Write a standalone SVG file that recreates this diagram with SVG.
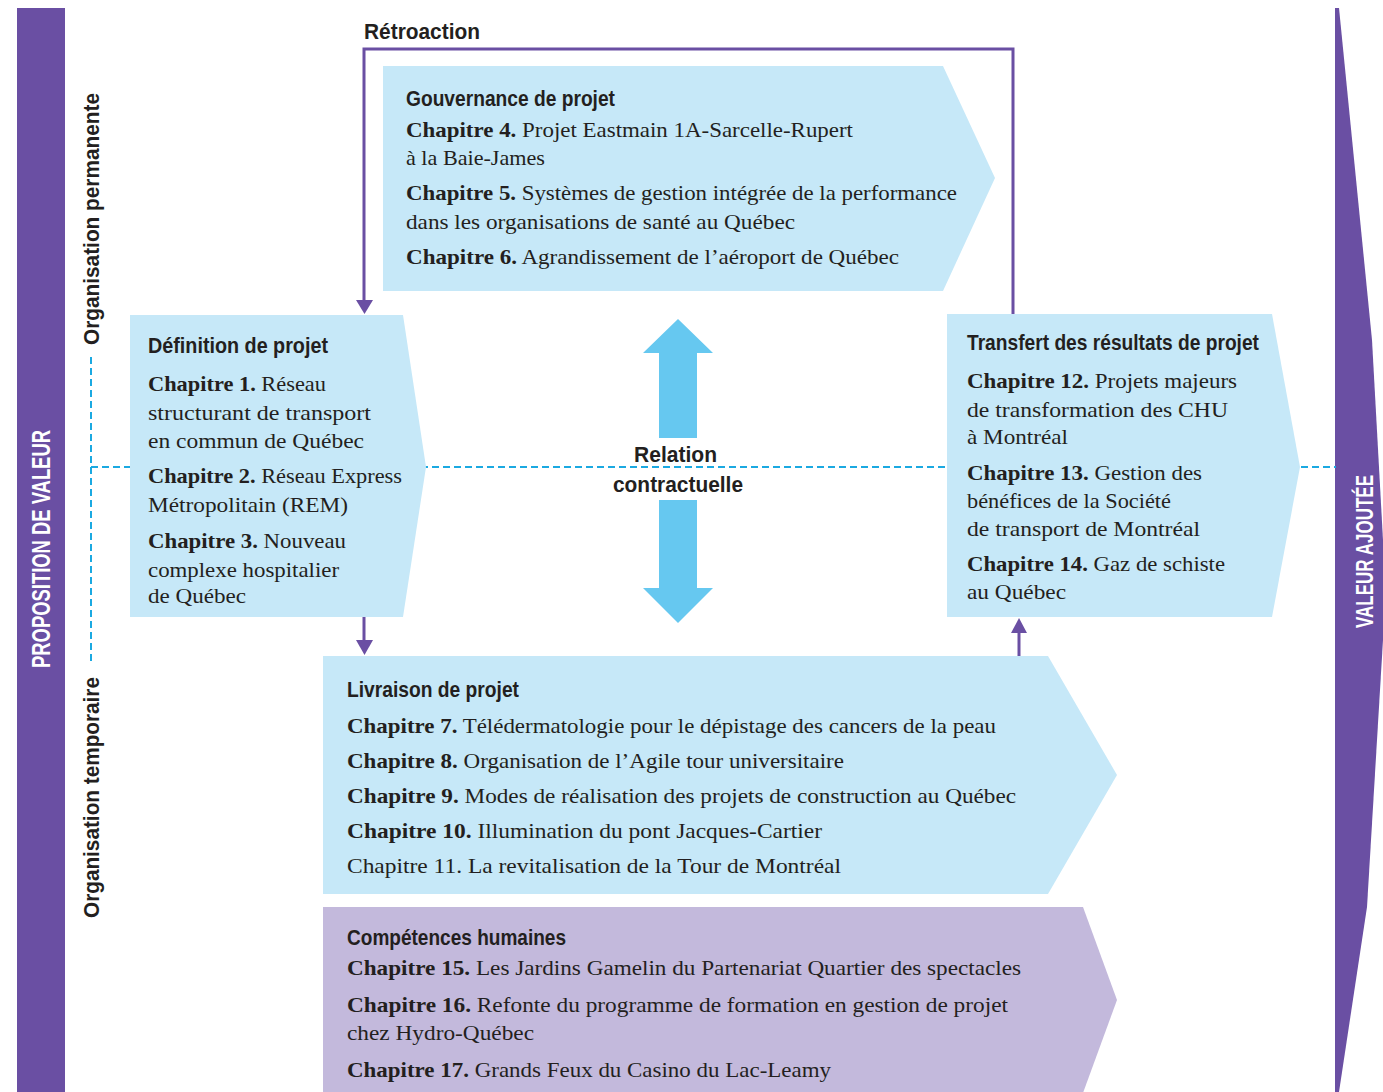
<svg xmlns="http://www.w3.org/2000/svg" width="1383" height="1092" viewBox="0 0 1383 1092">
<style>
.box{fill:#c6e8f8}
.boxp{fill:#c3b9dc}
.bar{fill:#6a4fa3}
.dash{stroke:#1ba9e1;stroke-width:2;stroke-dasharray:7 4;fill:none}
.conn{stroke:#6a4fa3;stroke-width:3;fill:none}
.head{fill:#6a4fa3}
.h{font-family:"Liberation Sans",Arial,sans-serif;font-weight:700;font-size:22px;fill:#231f20}
.t{font-family:"Liberation Serif","Times New Roman",serif;font-size:22px;fill:#231f20}
.t tspan.b{font-weight:700}
.side{font-family:"Liberation Sans",Arial,sans-serif;font-weight:700;fill:#fff}
.big{fill:#66c8f0}
</style>
<rect width="1383" height="1092" fill="#fff"/>

<g id="bar-left">
<rect class="bar" x="17" y="8" width="48" height="1084"/>
<text class="side" font-size="25" transform="translate(50,668) rotate(-90)" textLength="238" lengthAdjust="spacingAndGlyphs">PROPOSITION DE VALEUR</text>
</g>
<g id="bar-right">
<polygon class="bar" points="1335,8 1339,8 1372,340 1383,540 1383,640 1367,907 1339,1092 1335,1092"/>
<text class="side" font-size="24" transform="translate(1373,628) rotate(-90)" textLength="153" lengthAdjust="spacingAndGlyphs">VALEUR AJOUTÉE</text>
</g>

<g id="guides">
<line class="dash" x1="91" y1="467" x2="1336" y2="467"/>
<line class="dash" x1="91" y1="357" x2="91" y2="662"/>
<text class="h" transform="translate(99,345) rotate(-90)" textLength="252" lengthAdjust="spacingAndGlyphs">Organisation permanente</text>
<text class="h" transform="translate(99,918) rotate(-90)" textLength="241" lengthAdjust="spacingAndGlyphs">Organisation temporaire</text>
</g>

<g id="connectors">
<polyline class="conn" points="364,303 364,49 1013,49 1013,314"/>
<polygon class="head" points="356,300 373,300 364.5,314"/>
<line class="conn" x1="364" y1="617" x2="364" y2="642"/>
<polygon class="head" points="356,640 373,640 364.5,655"/>
<line class="conn" x1="1019" y1="632" x2="1019" y2="656"/>
<polygon class="head" points="1011,633 1027,633 1019,618"/>
<text class="h" x="364" y="39" textLength="116" lengthAdjust="spacingAndGlyphs">Rétroaction</text>
</g>

<g id="gouvernance">
<polygon class="box" points="383,66 943,66 995,178 943,291 383,291"/>
<text class="h" x="406" y="106" textLength="209" lengthAdjust="spacingAndGlyphs">Gouvernance de projet</text>
<text class="t" x="406" y="137" textLength="447" lengthAdjust="spacingAndGlyphs"><tspan class="b">Chapitre 4.</tspan> Projet Eastmain 1A-Sarcelle-Rupert</text>
<text class="t" x="406" y="165" textLength="139" lengthAdjust="spacingAndGlyphs">à la Baie-James</text>
<text class="t" x="406" y="200" textLength="551" lengthAdjust="spacingAndGlyphs"><tspan class="b">Chapitre 5.</tspan> Systèmes de gestion intégrée de la performance</text>
<text class="t" x="406" y="229" textLength="389" lengthAdjust="spacingAndGlyphs">dans les organisations de santé au Québec</text>
<text class="t" x="406" y="264" textLength="493" lengthAdjust="spacingAndGlyphs"><tspan class="b">Chapitre 6.</tspan> Agrandissement de l’aéroport de Québec</text>
</g>

<g id="definition">
<polygon class="box" points="130,315 403,315 426,467 403,617 130,617"/>
<text class="h" x="148" y="353" textLength="180" lengthAdjust="spacingAndGlyphs">Définition de projet</text>
<text class="t" x="148" y="391" textLength="178" lengthAdjust="spacingAndGlyphs"><tspan class="b">Chapitre 1.</tspan> Réseau</text>
<text class="t" x="148" y="420" textLength="223" lengthAdjust="spacingAndGlyphs">structurant de transport</text>
<text class="t" x="148" y="448" textLength="216" lengthAdjust="spacingAndGlyphs">en commun de Québec</text>
<text class="t" x="148" y="483" textLength="254" lengthAdjust="spacingAndGlyphs"><tspan class="b">Chapitre 2.</tspan> Réseau Express</text>
<text class="t" x="148" y="512" textLength="200" lengthAdjust="spacingAndGlyphs">Métropolitain (REM)</text>
<text class="t" x="148" y="548" textLength="198" lengthAdjust="spacingAndGlyphs"><tspan class="b">Chapitre 3.</tspan> Nouveau</text>
<text class="t" x="148" y="577" textLength="191" lengthAdjust="spacingAndGlyphs">complexe hospitalier</text>
<text class="t" x="148" y="603" textLength="98" lengthAdjust="spacingAndGlyphs">de Québec</text>
</g>

<g id="transfert">
<polygon class="box" points="947,314 1272,314 1300,467 1272,617 947,617"/>
<text class="h" x="967" y="350" textLength="292" lengthAdjust="spacingAndGlyphs">Transfert des résultats de projet</text>
<text class="t" x="967" y="388" textLength="270" lengthAdjust="spacingAndGlyphs"><tspan class="b">Chapitre 12.</tspan> Projets majeurs</text>
<text class="t" x="967" y="417" textLength="261" lengthAdjust="spacingAndGlyphs">de transformation des CHU</text>
<text class="t" x="967" y="444" textLength="101" lengthAdjust="spacingAndGlyphs">à Montréal</text>
<text class="t" x="967" y="480" textLength="235" lengthAdjust="spacingAndGlyphs"><tspan class="b">Chapitre 13.</tspan> Gestion des</text>
<text class="t" x="967" y="508" textLength="204" lengthAdjust="spacingAndGlyphs">bénéfices de la Société</text>
<text class="t" x="967" y="536" textLength="233" lengthAdjust="spacingAndGlyphs">de transport de Montréal</text>
<text class="t" x="967" y="571" textLength="258" lengthAdjust="spacingAndGlyphs"><tspan class="b">Chapitre 14.</tspan> Gaz de schiste</text>
<text class="t" x="967" y="599" textLength="99" lengthAdjust="spacingAndGlyphs">au Québec</text>
</g>

<g id="livraison">
<polygon class="box" points="323,656 1048,656 1117,775 1048,894 323,894"/>
<text class="h" x="347" y="697" textLength="172" lengthAdjust="spacingAndGlyphs">Livraison de projet</text>
<text class="t" x="347" y="733" textLength="649" lengthAdjust="spacingAndGlyphs"><tspan class="b">Chapitre 7.</tspan> Télédermatologie pour le dépistage des cancers de la peau</text>
<text class="t" x="347" y="768" textLength="497" lengthAdjust="spacingAndGlyphs"><tspan class="b">Chapitre 8.</tspan> Organisation de l’Agile tour universitaire</text>
<text class="t" x="347" y="803" textLength="669" lengthAdjust="spacingAndGlyphs"><tspan class="b">Chapitre 9.</tspan> Modes de réalisation des projets de construction au Québec</text>
<text class="t" x="347" y="838" textLength="475" lengthAdjust="spacingAndGlyphs"><tspan class="b">Chapitre 10.</tspan> Illumination du pont Jacques-Cartier</text>
<text class="t" x="347" y="873" textLength="494" lengthAdjust="spacingAndGlyphs">Chapitre 11. La revitalisation de la Tour de Montréal</text>
</g>

<g id="competences">
<polygon class="boxp" points="323,907 1083,907 1117,1000 1083,1093 323,1093"/>
<text class="h" x="347" y="945" textLength="219" lengthAdjust="spacingAndGlyphs">Compétences humaines</text>
<text class="t" x="347" y="975" textLength="674" lengthAdjust="spacingAndGlyphs"><tspan class="b">Chapitre 15.</tspan> Les Jardins Gamelin du Partenariat Quartier des spectacles</text>
<text class="t" x="347" y="1012" textLength="661" lengthAdjust="spacingAndGlyphs"><tspan class="b">Chapitre 16.</tspan> Refonte du programme de formation en gestion de projet</text>
<text class="t" x="347" y="1040" textLength="187" lengthAdjust="spacingAndGlyphs">chez Hydro-Québec</text>
<text class="t" x="347" y="1077" textLength="484" lengthAdjust="spacingAndGlyphs"><tspan class="b">Chapitre 17.</tspan> Grands Feux du Casino du Lac-Leamy</text>
</g>

<g id="relation">
<polygon class="big" points="678,319 713,353 697,353 697,438 659,438 659,353 643,353"/>
<polygon class="big" points="659,500 697,500 697,588 713,588 678,623 643,588 659,588"/>
<text class="h" x="634" y="462" font-size="23" textLength="83" lengthAdjust="spacingAndGlyphs">Relation</text>
<text class="h" x="613" y="492" font-size="23" textLength="130" lengthAdjust="spacingAndGlyphs">contractuelle</text>
</g>
</svg>
